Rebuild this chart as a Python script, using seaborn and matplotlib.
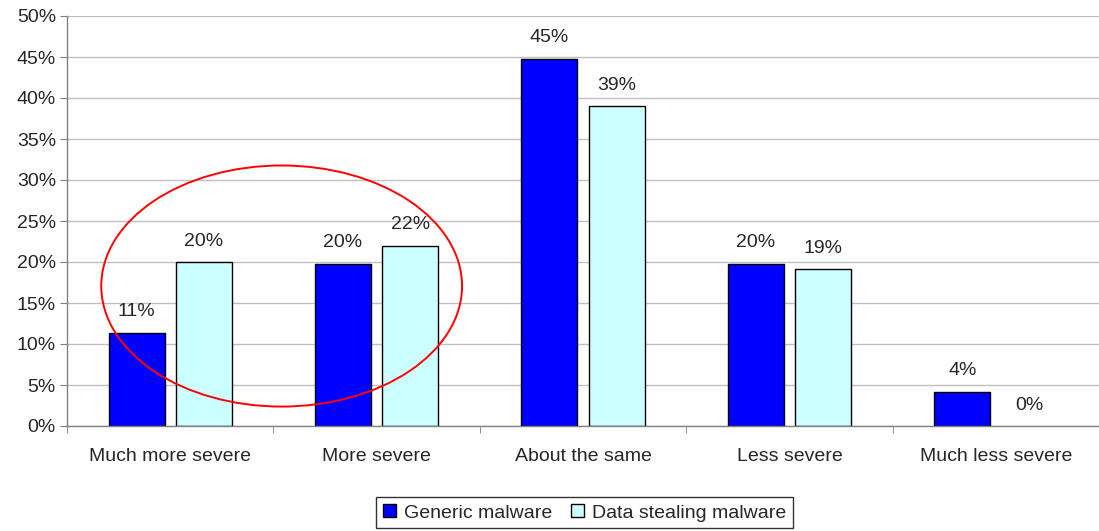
import numpy as np
import pandas as pd
import matplotlib.pyplot as plt
import seaborn as sns
from matplotlib.patches import Ellipse

categories = ["Much more severe", "More severe", "About the same", "Less severe", "Much less severe"]
generic = [11.4, 19.8, 44.8, 19.8, 4.2]
stealing = [20.0, 22.0, 39.0, 19.1, 0.0]
series = ["Generic malware", "Data stealing malware"]
colors = ["#0000FF", "#CCFFFF"]

df = pd.DataFrame({
    "category": categories * 2,
    "value": generic + stealing,
    "series": [series[0]] * 5 + [series[1]] * 5,
})

sns.set_style("white")
plt.rcParams['font.family'] = ['Liberation Sans', 'DejaVu Sans']
fs = 14

fig = plt.figure(figsize=(10.99, 5.31), dpi=100)
ax = fig.add_axes([67/1099, 105/531, 1 - 67/1099, 410/531])

sns.barplot(data=df, x="category", y="value", hue="series", palette=colors,
            saturation=1, width=0.65, gap=0.165, edgecolor="black", linewidth=1,
            ax=ax, legend=True)

for cont in ax.containers:
    for b in cont:
        if b.get_height() == 0:
            b.set_linewidth(0)
    ax.bar_label(cont, labels=[f"{b.get_height():.0f}%" for b in cont],
                 padding=9, fontsize=fs)

ax.set_ylim(0, 50)
ax.set_xlim(-0.5, 4.5)
ax.set_yticks(range(0, 51, 5))
ax.set_yticklabels([f"{v}%" for v in range(0, 51, 5)], fontsize=fs)
ax.yaxis.grid(True, color="#c0c0c0", linewidth=1)
ax.set_axisbelow(True)
ax.set_xlabel("")
ax.set_ylabel("")

ax.set_xticks(range(5))
ax.set_xticklabels(categories, fontsize=fs)
ax.set_xticks(np.arange(-0.5, 5, 1), minor=True)
ax.tick_params(axis="x", which="major", length=0, pad=16)
ax.tick_params(axis="x", which="minor", length=5, color="#808080", direction="out", bottom=True)
ax.tick_params(axis="y", length=5, color="#808080", direction="out", left=True, pad=3)

for s in ["top", "right"]:
    ax.spines[s].set_visible(False)
for s in ["left", "bottom"]:
    ax.spines[s].set_color("#808080")
    ax.spines[s].set_linewidth(1)

# red highlight ellipse
ax.add_patch(Ellipse((0.54, 17.07), 1.748, 29.4, fill=False, edgecolor="red",
                     linewidth=1.4, clip_on=False, zorder=5))

leg = ax.legend(loc="center", bbox_to_anchor=(0.532, 0.034), bbox_transform=fig.transFigure,
                ncol=2, fontsize=fs, frameon=True, fancybox=False, edgecolor="black",
                handlelength=0.65, handleheight=0.65, handletextpad=0.4, columnspacing=1.0,
                borderpad=0.35, borderaxespad=0, handler_map=None)
leg.get_frame().set_linewidth(1)
leg._legend_box.sep = 0

plt.savefig("out.png", dpi=100)
